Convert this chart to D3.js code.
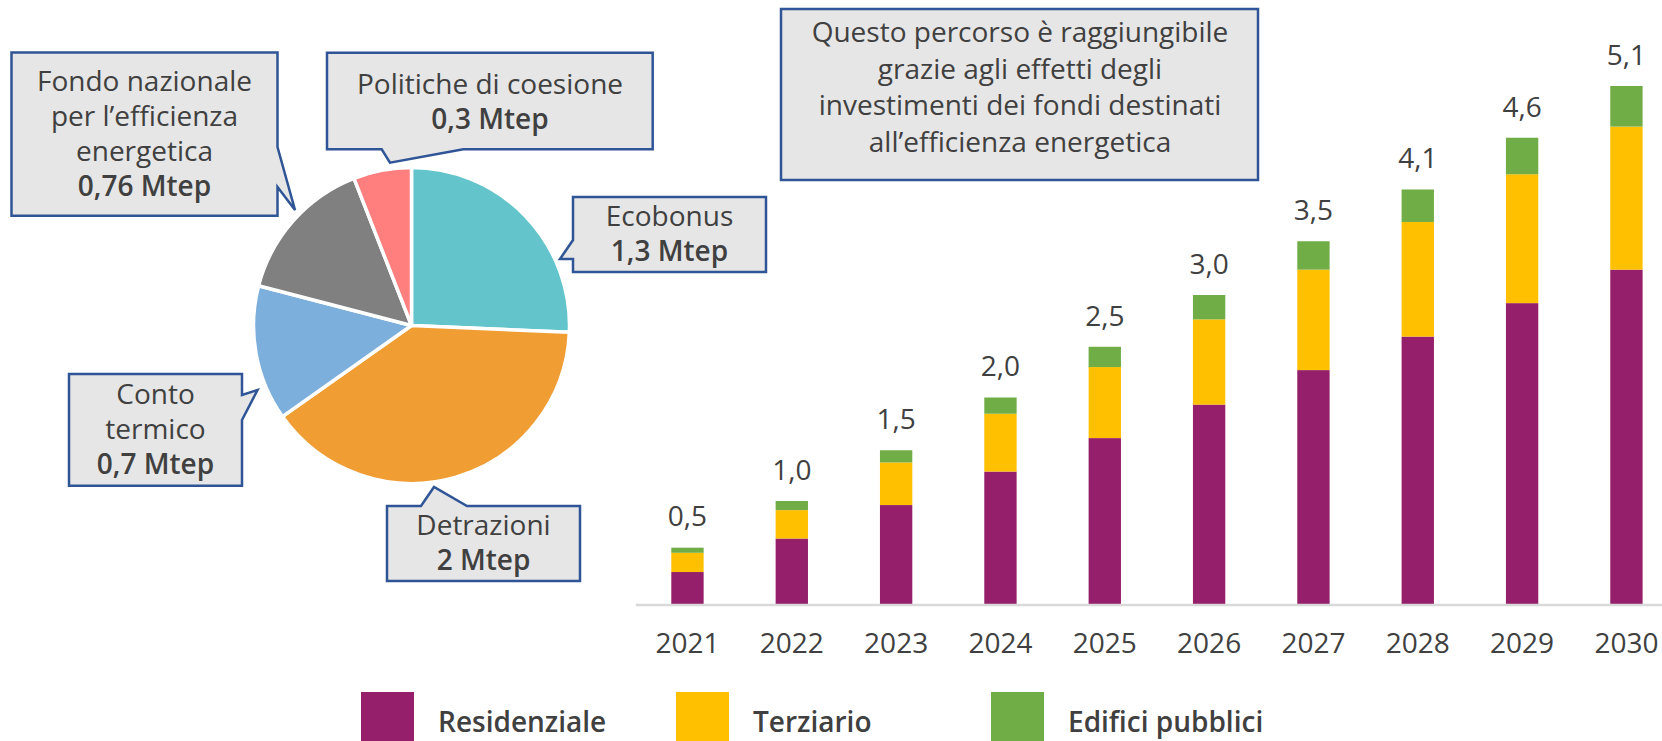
<!DOCTYPE html>
<html>
<head>
<meta charset="utf-8">
<script src="https://cdn.jsdelivr.net/npm/d3@7"></script>
<style>
  body { margin: 0; background: #fff; }
  text { font-family: "Open Sans", Lato, sans-serif; fill: #404040; }
</style>
</head>
<body>
<div class="chart"></div>
<script>
// Pie data (Mtep per strumento)
let pieNames = ["Ecobonus", "Detrazioni", "Conto termico", "Fondo nazionale per l\u2019efficienza energetica", "Politiche di coesione"];
let pieValues = [1.3, 2, 0.7, 0.76, 0.3];
let pieColors = ["#63C5CB", "#F09E33", "#7DAFDD", "#808080", "#FF7F7F"];

// Bar data
let years = ["2021", "2022", "2023", "2024", "2025", "2026", "2027", "2028", "2029", "2030"];
let residenziale = [0.32, 0.65, 0.98, 1.31, 1.64, 1.97, 2.31, 2.64, 2.97, 3.30];
let terziario = [0.19, 0.28, 0.42, 0.57, 0.70, 0.84, 0.99, 1.13, 1.27, 1.41];
let edificiPubblici = [0.05, 0.09, 0.12, 0.16, 0.20, 0.24, 0.28, 0.32, 0.36, 0.40];
let totals = [0.5, 1.0, 1.5, 2.0, 2.5, 3.0, 3.5, 4.1, 4.6, 5.1];
let seriesNames = ["Residenziale", "Terziario", "Edifici pubblici"];
let seriesColors = ["#951F6B", "#FFC000", "#70AD47"];

let noteLines = ["Questo percorso \u00e8 raggiungibile", "grazie agli effetti degli", "investimenti dei fondi destinati", "all\u2019efficienza energetica"];

let svgWidth = 1662;
let svgHeight = 741;

let svg = d3.select(".chart")
  .append("svg")
  .attr("width", svgWidth)
  .attr("height", svgHeight);

let fmt = v => String(v).replace(".", ",");
let fontSize = "28px";

// ---------- Pie ----------
let pieCenter = [411.5, 325.5];
let pie = d3.pie().sort(null).value(d => d);
let arc = d3.arc().innerRadius(0).outerRadius(158);

svg.append("g")
  .attr("transform", `translate(${pieCenter[0]}, ${pieCenter[1]})`)
  .selectAll("path")
  .data(pie(pieValues))
  .enter().append("path")
  .attr("d", arc)
  .attr("fill", (d, i) => pieColors[i])
  .attr("stroke", "#fff")
  .attr("stroke-width", 3.5)
  .attr("stroke-linejoin", "round");

// callouts: box outline with pointer, text lines (centre y), index into pie data
let callouts = [
  { idx: 0, pts: [[573, 197], [766, 197], [766, 272], [573, 272], [573, 259], [560, 259], [573, 240]],
    cx: 669.5, lines: ["Ecobonus"], ys: [216.5, 251.5] },
  { idx: 1, pts: [[387, 506], [421, 506], [434, 487], [467, 506], [580, 506], [580, 581], [387, 581]],
    cx: 483.5, lines: ["Detrazioni"], ys: [525, 560] },
  { idx: 2, pts: [[69, 374], [242, 374], [242, 395], [257.5, 390], [242, 420], [242, 485.7], [69, 485.7]],
    cx: 155.5, lines: ["Conto", "termico"], ys: [394, 429, 464] },
  { idx: 3, pts: [[11.5, 52.5], [277.5, 52.5], [277.5, 147], [295, 210], [277.5, 187], [277.5, 215.7], [11.5, 215.7]],
    cx: 144.5, lines: ["Fondo nazionale", "per l\u2019efficienza", "energetica"], ys: [81.5, 116.5, 151.5, 186.5] },
  { idx: 4, pts: [[327, 52.7], [652.7, 52.7], [652.7, 149.3], [463.3, 149.3], [390, 162.7], [381.7, 149.3], [327, 149.3]],
    cx: 490, lines: ["Politiche di coesione"], ys: [84, 119] }
];

callouts.forEach(function(c) {
  let g = svg.append("g");
  g.append("path")
    .attr("d", "M" + c.pts.map(p => p.join(",")).join("L") + "Z")
    .attr("fill", "#E6E6E6")
    .attr("stroke", "#2F5597")
    .attr("stroke-width", 2.5);
  c.lines.forEach(function(line, i) {
    g.append("text")
      .attr("x", c.cx)
      .attr("y", c.ys[i])
      .attr("dy", "0.35em")
      .attr("text-anchor", "middle")
      .style("font-size", fontSize)
      .text(line);
  });
  g.append("text")
    .attr("x", c.cx)
    .attr("y", c.ys[c.ys.length - 1])
    .attr("dy", "0.35em")
    .attr("text-anchor", "middle")
    .style("font-size", fontSize)
    .style("font-weight", 600)
    .text(fmt(pieValues[c.idx]) + " Mtep");
});

// ---------- Note box ----------
svg.append("rect")
  .attr("x", 781).attr("y", 9)
  .attr("width", 477).attr("height", 171)
  .attr("fill", "#E6E6E6")
  .attr("stroke", "#2F5597")
  .attr("stroke-width", 2.5);

svg.selectAll(".note")
  .data(noteLines)
  .enter().append("text")
  .attr("class", "note")
  .attr("x", 1020)
  .attr("y", (d, i) => 32 + i * 36.7)
  .attr("dy", "0.35em")
  .attr("text-anchor", "middle")
  .style("font-size", fontSize)
  .text(d => d);

// ---------- Stacked bars ----------
let x = d3.scaleBand()
  .domain(years)
  .range([635.3, 1678.6])
  .paddingInner(0.69)
  .paddingOuter(0.345);

let y = d3.scaleLinear()
  .domain([0, 5.1])
  .range([604.5, 87]);

let table = years.map((yr, i) => ({
  year: yr,
  Residenziale: residenziale[i],
  Terziario: terziario[i],
  "Edifici pubblici": edificiPubblici[i]
}));

let stacked = d3.stack().keys(seriesNames)(table);

let bars = svg.append("g");
bars.selectAll("g")
  .data(stacked)
  .enter().append("g")
  .attr("fill", (d, i) => seriesColors[i])
  .selectAll("rect")
  .data(d => d)
  .enter().append("rect")
  .attr("x", d => x(d.data.year))
  .attr("y", d => y(d[1]))
  .attr("width", x.bandwidth())
  .attr("height", d => y(d[0]) - y(d[1]));

// totals above bars
svg.selectAll(".total")
  .data(years)
  .enter().append("text")
  .attr("class", "total")
  .attr("x", d => x(d) + x.bandwidth() / 2)
  .attr("y", (d, i) => y(residenziale[i] + terziario[i] + edificiPubblici[i]) - 31)
  .attr("dy", "0.35em")
  .attr("text-anchor", "middle")
  .style("font-size", fontSize)
  .text((d, i) => totals[i].toFixed(1).replace(".", ","));

// x axis
let xAxis = svg.append("g")
  .attr("transform", `translate(0, ${y(0)})`)
  .call(d3.axisBottom(x).tickSize(0).tickPadding(29));
xAxis.select(".domain").attr("stroke", "#D9D9D9").attr("stroke-width", 2.5);
xAxis.selectAll("text")
  .style("font-size", fontSize)
  .style("font-family", "'Open Sans', sans-serif")
  .attr("fill", "#404040");

// ---------- Legend ----------
let legendX = [361, 676, 991];
let legend = svg.selectAll(".legend")
  .data(seriesNames)
  .enter().append("g")
  .attr("class", "legend");

legend.append("rect")
  .attr("x", (d, i) => legendX[i])
  .attr("y", 692)
  .attr("width", 53)
  .attr("height", 55)
  .attr("fill", (d, i) => seriesColors[i]);

legend.append("text")
  .attr("x", (d, i) => legendX[i] + 77)
  .attr("y", 722)
  .attr("dy", "0.35em")
  .style("font-size", fontSize)
  .style("font-weight", 600)
  .text(d => d);
</script>
</body>
</html>
